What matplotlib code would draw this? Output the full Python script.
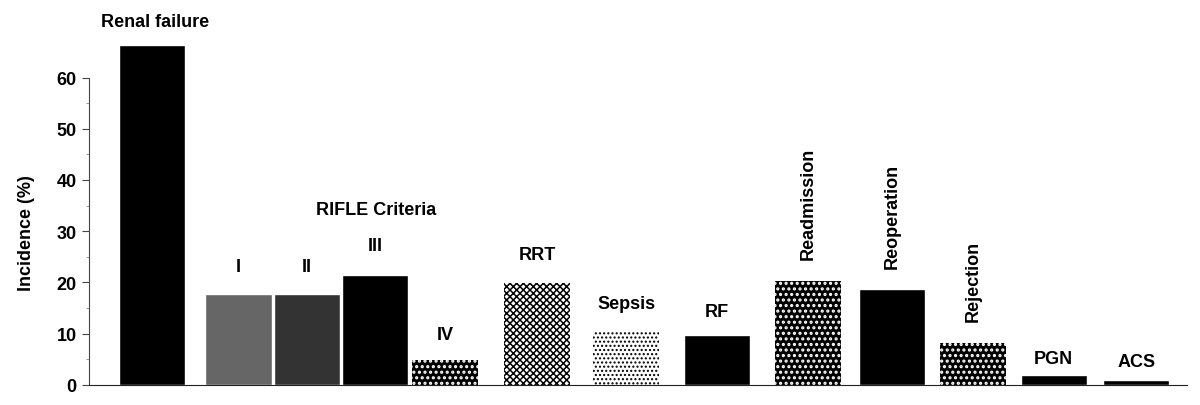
import matplotlib
matplotlib.use("Agg")
import matplotlib.pyplot as plt
from matplotlib.ticker import FixedLocator

plt.rcParams['font.family'] = ['Liberation Sans', 'DejaVu Sans']
plt.rcParams['hatch.linewidth'] = 1.0

# incidence (%) per outcome
labels = ["Renal failure", "I", "II", "III", "IV", "RRT", "Sepsis", "RF",
          "Readmission", "Reoperation", "Rejection", "PGN", "ACS"]
values = [66.4, 17.7, 17.7, 21.4, 4.8, 19.8, 10.2, 9.7, 20.2, 18.6, 8.1, 1.9, 0.9]

# layout (bar centres in bar-width units, label positions in data units)
positions = [0.94, 2.23, 3.25, 4.27, 5.31, 6.69, 8.02, 9.37, 10.73, 11.99, 13.2, 14.4, 15.63]
label_x = [0.99, 2.23, 3.25, 4.27, 5.31, 6.69, 8.02, 9.37, 10.73, 11.99, 13.2, 14.4, 15.63]
label_y = [71.0, 23.0, 23.0, 27.1, 9.9, 25.5, 15.8, 14.2, 24.6, 22.8, 12.5, 5.2, 4.6]
rotated = [False] * 8 + [True, True, True, False, False]

facecolors = ["black", "#666666", "#333333", "black", "black", "white", "white",
              "black", "black", "black", "black", "black", "black"]
hatchcolors = [None, None, None, None, "white", "black", "black",
               None, "white", "black", "white", None, None]
hatches = [None, None, None, None, "...", "xxxxx", "....",
           None, "...", None, "...", None, None]
hatch_lw = [0, 0, 0, 0, 1.5, 1.1, 1.0, 0, 1.5, 0, 1.5, 0, 0]


def main():
    fig = plt.figure(figsize=(12, 4.06), dpi=100)
    ax = fig.add_axes([0.0742, 0.05, 0.9150, 0.9458])

    for x, v, fc, hc, h, hlw in zip(positions, values, facecolors, hatchcolors,
                                     hatches, hatch_lw):
        if h is None:
            ax.bar(x, v, width=0.99, color=fc, edgecolor="white", linewidth=1.0)
        else:
            with plt.rc_context({'hatch.linewidth': hlw}):
                bars = ax.bar(x, v, width=0.99, color=fc, edgecolor=hc,
                              linewidth=0, hatch=h)
            for b in bars:
                if hasattr(b, "set_hatch_linewidth"):
                    b.set_hatch_linewidth(hlw)

    for x, y, lab, rot in zip(label_x, label_y, labels, rotated):
        if rot:
            ax.text(x, y, lab, rotation=90, ha="center", va="bottom",
                    fontsize=13, fontweight="bold")
        else:
            ax.text(x, y, lab, ha="center", va="center",
                    fontsize=13, fontweight="bold", clip_on=False)

    ax.text(4.28, 34.3, "RIFLE Criteria", ha="center", va="center",
            fontsize=13, fontweight="bold")

    ax.set_xlim(0, 16.39)
    ax.set_ylim(0, 75)
    ax.spines["top"].set_visible(False)
    ax.spines["right"].set_visible(False)
    ax.spines["left"].set_bounds(0, 60)
    ax.spines["left"].set_color("#444444")
    ax.spines["bottom"].set_color("#222222")
    ax.set_xticks([])
    ax.set_yticks(range(0, 61, 10))
    ax.yaxis.set_minor_locator(FixedLocator(range(5, 60, 10)))
    ax.tick_params(axis="y", which="major", length=5, color="#444444",
                   labelsize=13, pad=4)
    ax.tick_params(axis="y", which="minor", length=2.5, color="#888888")
    for t in ax.get_yticklabels():
        t.set_fontweight("bold")
    ax.set_ylabel("Incidence (%)", fontsize=13, fontweight="bold")
    ax.yaxis.set_label_coords(35 / 1200, (406 - 233) / 406, transform=fig.transFigure)

    fig.savefig("out.png", dpi=100)


if __name__ == "__main__":
    main()
